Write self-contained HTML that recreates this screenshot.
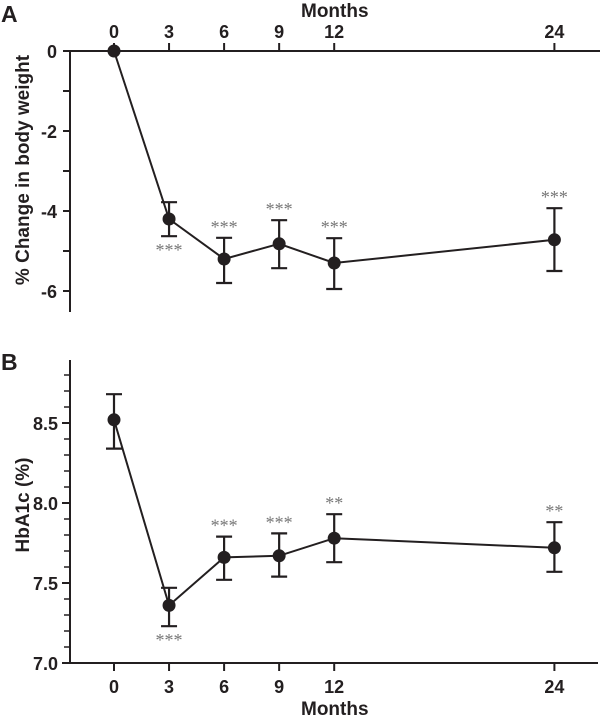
<!DOCTYPE html>
<html><head><meta charset="utf-8"><style>
html,body{margin:0;padding:0;background:#fff;}
svg{display:block;font-family:"Liberation Sans",Arial,sans-serif;}
.t{font-weight:bold;font-size:18px;fill:#231f20;}
.tt{font-weight:bold;font-size:19px;fill:#231f20;}
.st{font-family:"Liberation Serif",serif;font-size:18px;fill:#777;}
</style></head><body>
<svg id="c" width="600" height="721" xmlns="http://www.w3.org/2000/svg"></svg>
<script>
const months = [0, 3, 6, 9, 12, 24];
const xTicks = ["0", "3", "6", "9", "12", "24"];
const weightMean = [0, -4.2, -5.2, -4.82, -5.3, -4.72];
const weightHi = [0, -3.78, -4.67, -4.23, -4.68, -3.93];
const weightLo = [0, -4.63, -5.8, -5.43, -5.95, -5.5];
const weightSig = ["", "***", "***", "***", "***", "***"];
const weightYTicks = [0, -2, -4, -6];
const hbaMean = [8.52, 7.36, 7.66, 7.67, 7.78, 7.72];
const hbaHi = [8.68, 7.47, 7.79, 7.81, 7.93, 7.88];
const hbaLo = [8.34, 7.23, 7.52, 7.54, 7.63, 7.57];
const hbaSig = ["", "***", "***", "***", "**", "**"];
const hbaYTicks = ["7.0", "7.5", "8.0", "8.5"];

const svg = document.getElementById('c');
const NS = "http://www.w3.org/2000/svg";
function mk(tag, attrs, parent){
  const e = document.createElementNS(NS, tag);
  for (const k in attrs) e.setAttribute(k, attrs[k]);
  (parent||svg).appendChild(e); return e;
}
const xs = m => 114 + m * 18.35;
const yA = v => 51 - v * 40;
const yB = v => 663 - (v - 7) * 160;
const S = "#231f20";

function panel(gname, yf, mean, hi, lo, sig, belowIdx){
  const g = mk('g', {});
  
  
  let d = '';
  months.forEach((m,i)=>{ d += (i?'L':'M') + xs(m) + ' ' + yf(mean[i]); });
  const ln = mk('path', {d, fill:'none', stroke:S, 'stroke-width':2}, g);
  
  
  months.forEach((m,i)=>{
    const x = xs(m);
    if (hi[i] !== lo[i]) {
      const eb = mk('path', {d:`M${x} ${yf(hi[i])}V${yf(lo[i])}M${x-8} ${yf(hi[i])}h16M${x-8} ${yf(lo[i])}h16`, stroke:S, 'stroke-width':2.2, fill:'none'}, g);
      
      
    }
    const p = mk('circle', {cx:x, cy:yf(mean[i]), r:6.5, fill:S}, g);
    
    
    if (sig[i]) {
      const below = i === belowIdx;
      const y = below ? yf(lo[i]) + 20 : yf(hi[i]) - 5;
      const t = mk('text', {x:x, y:y, 'text-anchor':'middle', class:'st'}, g);
      t.textContent = sig[i];
      
      
    }
  });
}

// Panel A axes
const pa = mk('text', {x:1, y:22, class:'t', style:'font-size:23px'}); pa.textContent='A';
 
const axA = mk('path', {d:'M70 51H600M70 51V312', stroke:S, 'stroke-width':2, fill:'none'});
 
[-1,-3,-5].forEach(v=>mk('path',{d:`M63 ${yA(v)}H70`,stroke:S,'stroke-width':2}));
weightYTicks.forEach(v=>{
  mk('path',{d:`M63 ${yA(v)}H70`,stroke:S,'stroke-width':2});
  const t = mk('text',{x:57,y:yA(v)+7,'text-anchor':'end',class:'t'}); t.textContent = String(v);
   
});
months.forEach((m,i)=>{
  mk('path',{d:`M${xs(m)} 43V51`,stroke:S,'stroke-width':2});
  const t = mk('text',{x:xs(m),y:38,'text-anchor':'middle',class:'t'}); t.textContent = xTicks[i];
   
});
const mA = mk('text',{x:301,y:17,class:'tt'}); mA.textContent='Months';
 
const yTA = mk('text',{x:0,y:0,class:'tt','text-anchor':'middle',transform:'translate(29 170) rotate(-90)'});
yTA.textContent='% Change in body weight';
 
panel('panel-a-series', yA, weightMean, weightHi, weightLo, weightSig, 1);

// Panel B axes
const pb = mk('text', {x:1, y:370, class:'t', style:'font-size:23px'}); pb.textContent='B';
 
const axB = mk('path', {d:'M70 360V663H598', stroke:S, 'stroke-width':2, fill:'none'});
 
for (let k=1;k<=18;k++){ const v = 7 + k*0.1; if (k%5) mk('path',{d:`M64 ${yB(v)}H70`,stroke:S,'stroke-width':1.5}); }
hbaYTicks.forEach(s=>{
  const v = parseFloat(s);
  mk('path',{d:`M62 ${yB(v)}H70`,stroke:S,'stroke-width':2});
  const t = mk('text',{x:58,y:yB(v)+7,'text-anchor':'end',class:'t'}); t.textContent = s;
   
});
months.forEach((m,i)=>{
  mk('path',{d:`M${xs(m)} 663V671`,stroke:S,'stroke-width':2});
  const t = mk('text',{x:xs(m),y:693,'text-anchor':'middle',class:'t'}); t.textContent = xTicks[i];
   
});
const mB = mk('text',{x:301,y:715,class:'tt'}); mB.textContent='Months';
 
const yTB = mk('text',{x:0,y:0,class:'tt','text-anchor':'middle',transform:'translate(29 505) rotate(-90)'});
yTB.textContent='HbA1c (%)';
 
panel('panel-b-series', yB, hbaMean, hbaHi, hbaLo, hbaSig, 1);
</script>
</body></html>
